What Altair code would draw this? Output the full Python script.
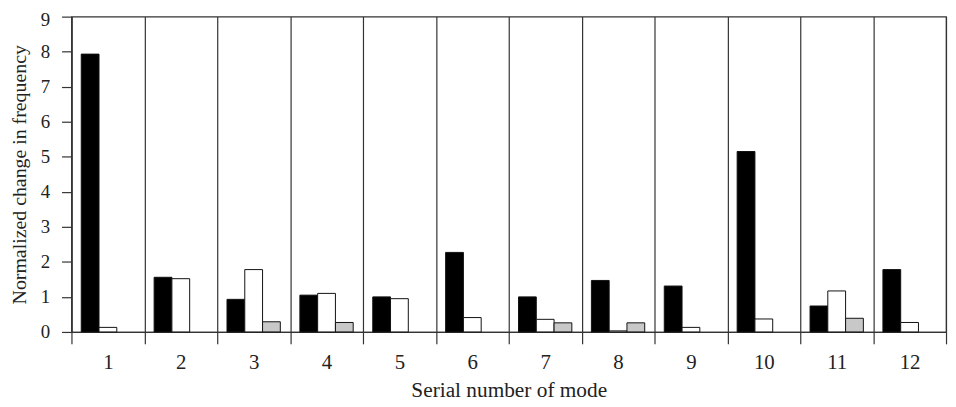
import altair as alt
import pandas as pd

modes = [str(i) for i in range(1, 13)]
black = [7.93, 1.56, 0.93, 1.05, 1.00, 2.27, 1.00, 1.47, 1.31, 5.15, 0.74, 1.78]
white = [0.13, 1.52, 1.78, 1.10, 0.95, 0.41, 0.36, 0.03, 0.13, 0.37, 1.17, 0.27]
gray = [0.00, 0.00, 0.29, 0.27, 0.00, 0.00, 0.26, 0.26, 0.00, 0.00, 0.39, 0.00]
series = ["black", "white", "gray"]
fills = ["#000000", "#ffffff", "#c8c8c8"]

rows = []
for name, vals in zip(series, [black, white, gray]):
    for m, v in zip(modes, vals):
        rows.append({"mode": m, "series": name, "value": v})
df = pd.DataFrame(rows)

font = "Liberation Serif"

chart = alt.Chart(df).transform_filter(
    alt.datum.value > 0
).mark_bar(stroke="#111111", strokeWidth=1).encode(
    x=alt.X("mode:N", sort=modes,
            scale=alt.Scale(paddingInner=0, paddingOuter=0),
            axis=alt.Axis(title="Serial number of mode", labelAngle=0,
                          tickBand="extent", grid=True, gridColor="#333333",
                          gridWidth=1.2, gridOpacity=1,
                          tickSize=12, tickColor="#333333", tickWidth=1.2,
                          domainColor="#333333", domainWidth=1.2,
                          labelFontSize=21, titleFontSize=21.5,
                          labelPadding=8, titlePadding=7)),
    xOffset=alt.XOffset("series:N", sort=series,
                        scale=alt.Scale(paddingOuter=0.55, paddingInner=0)),
    y=alt.Y("value:Q", scale=alt.Scale(domain=[0, 9], nice=False),
            axis=alt.Axis(title="Normalized change in frequency",
                          values=list(range(10)), grid=False,
                          tickSize=10, tickColor="#333333", tickWidth=1.2,
                          domainColor="#333333", domainWidth=1.2,
                          labelFontSize=19, titleFontSize=20,
                          labelOffset={"condition": {"test": "datum.value == 9", "value": 3}, "value": 0},
                          labelPadding=12, titlePadding=11)),
    fill=alt.Fill("series:N", sort=series,
                  scale=alt.Scale(domain=series, range=fills), legend=None),
).properties(
    width=882, height=318,
    autosize=alt.AutoSizeParams(type="none"),
    padding={"left": 64, "top": 7, "right": 2, "bottom": 74},
).configure_view(
    stroke="#333333", strokeWidth=1.2
).configure_axis(
    labelFont=font, titleFont=font,
    titleFontWeight="normal", labelColor="#222222", titleColor="#222222"
)

chart.save("out.html", embed_options={"renderer": "svg", "actions": False})
